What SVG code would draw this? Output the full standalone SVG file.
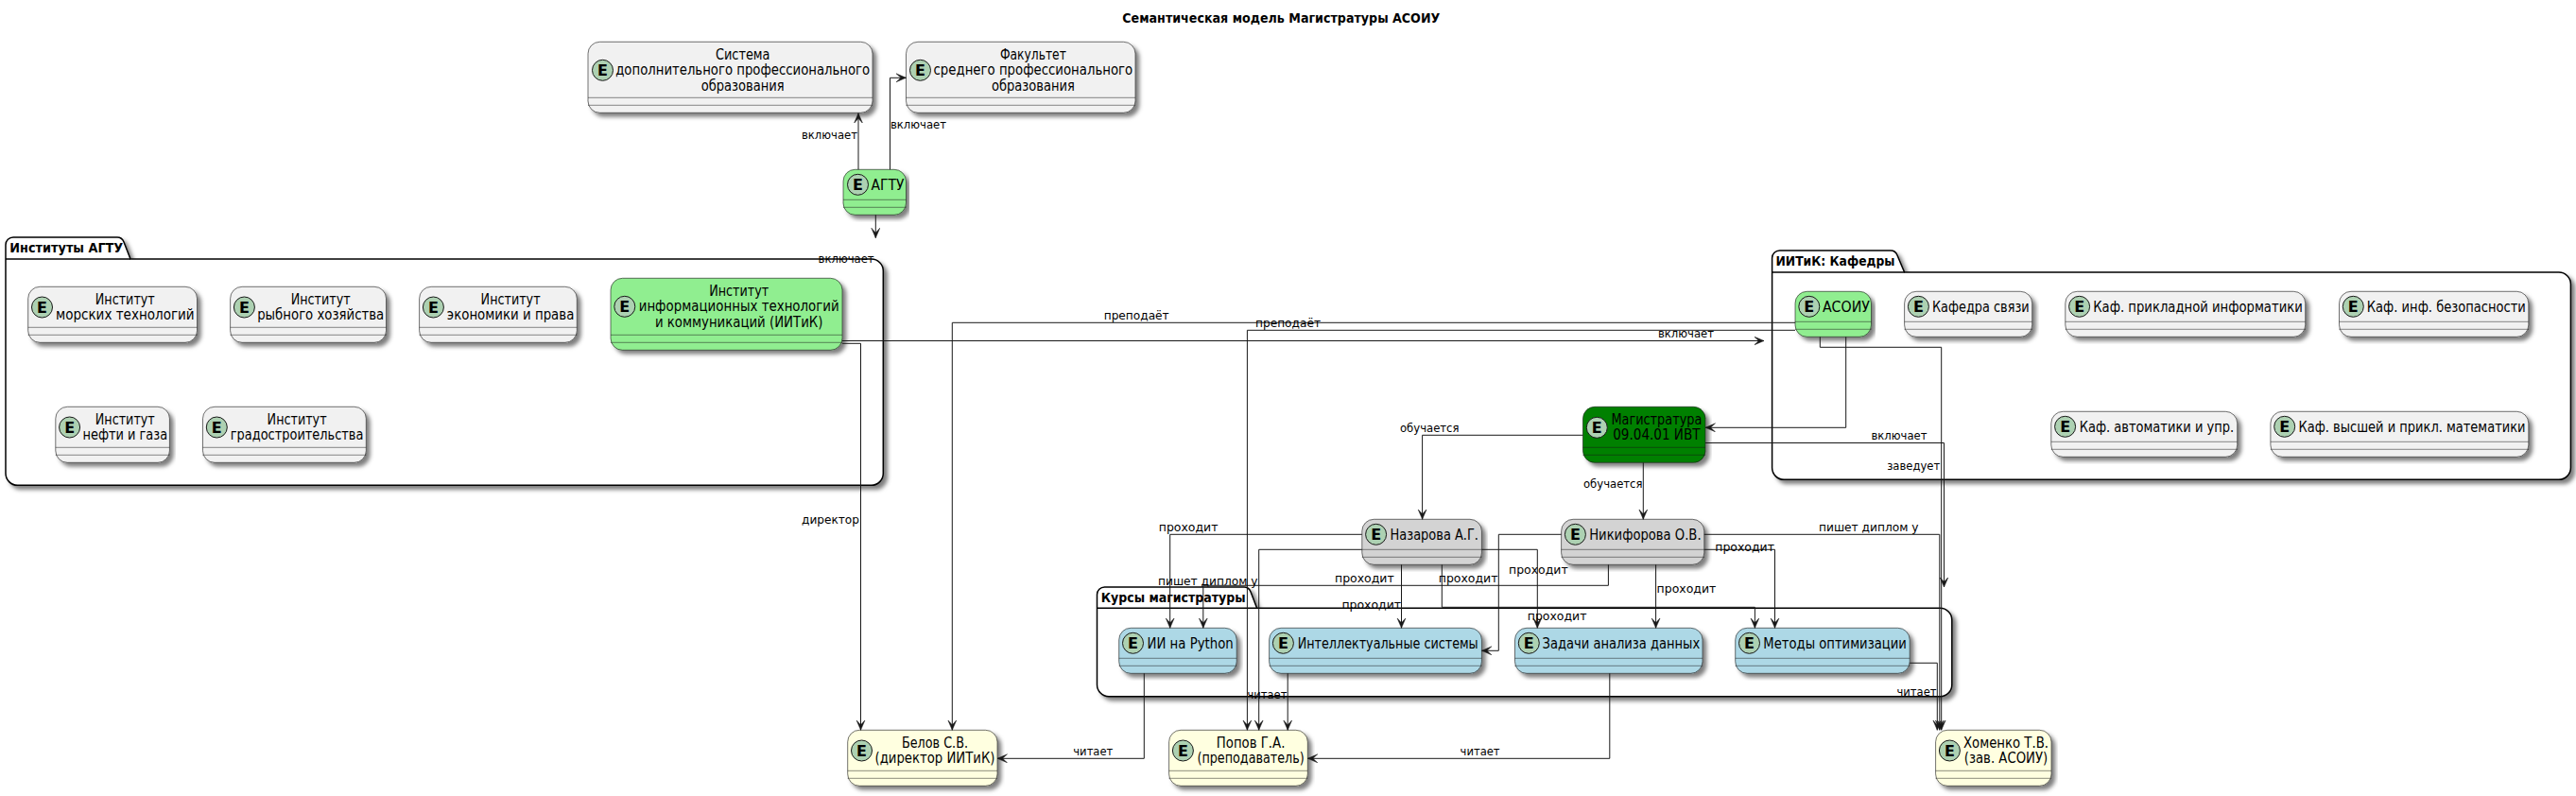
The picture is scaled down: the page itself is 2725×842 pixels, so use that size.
<svg xmlns="http://www.w3.org/2000/svg" width="2725" height="842" viewBox="0 0 2725 842">
<style>
text{font-family:"DejaVu Sans",sans-serif;fill:#000}
.b{stroke:#181818;stroke-width:.6;filter:url(#s)}
.d{stroke:#181818;stroke-width:.5;fill:none}
.c{fill:#ADD1B2;stroke:#181818;stroke-width:1}
.e{font-size:16px;font-weight:bold;text-anchor:middle}
.t{font-size:15px;text-anchor:middle}
.p{fill:#fff;stroke:#000;stroke-width:1.5;filter:url(#s)}
.pl{fill:none;stroke:#000;stroke-width:1.5}
.pt{font-size:14px;font-weight:bold}
.l{fill:none;stroke:#181818;stroke-width:1;marker-end:url(#a)}
.lb{font-size:13px}
.w{fill:#F1F1F1}.g{fill:#90EE90}.dg{fill:#008000}.y{fill:#D3D3D3}.u{fill:#ADD8E6}.ly{fill:#FFFFE0}
</style>
<defs>
<filter id="s" x="-5%" y="-5%" width="110%" height="120%"><feDropShadow dx="4" dy="4" stdDeviation="2" flood-color="#000" flood-opacity=".5"/></filter>
<marker id="a" markerUnits="userSpaceOnUse" markerWidth="12" markerHeight="11" refX="10.5" refY="5" orient="auto"><polygon points="10.5,5 0,0.5 5,5 0,9.5" fill="#181818" stroke="#181818" stroke-width=".5"/></marker>
</defs>
<rect width="2725" height="842" fill="#fff"/>
<text class="pt" x="1187.3" y="24.3" textLength="336" lengthAdjust="spacingAndGlyphs">Семантическая модель Магистратуры АСОИУ</text>
<g id="pkg-institutes"><path class="p" d="M6,259 A8,8 0 0 1 14,251 L124,251 Q129,251 131,256 L138,274 L921.8,274 A12.5,12.5 0 0 1 934.3,286.5 L934.3,500.8 A12.5,12.5 0 0 1 921.8,513.3 L18.5,513.3 A12.5,12.5 0 0 1 6,500.8 Z"/><path class="pl" d="M6,274 H138"/><text class="pt" x="10.3" y="267" textLength="120" lengthAdjust="spacingAndGlyphs">Институты АГТУ</text></g>
<g id="pkg-departments"><path class="p" d="M1874.6,273 A8,8 0 0 1 1882.6,265 L2000,265 Q2005,265 2007,270 L2014.6,288 L2706.9,288 A12.5,12.5 0 0 1 2719.4,300.5 L2719.4,494.8 A12.5,12.5 0 0 1 2706.9,507.3 L1887.1,507.3 A12.5,12.5 0 0 1 1874.6,494.8 Z"/><path class="pl" d="M1874.6,288 H2014.6"/><text class="pt" x="1878.5" y="281" textLength="126" lengthAdjust="spacingAndGlyphs">ИИТиК: Кафедры</text></g>
<g id="pkg-courses"><path class="p" d="M1160.5,629 A8,8 0 0 1 1168.5,621 L1316,621 Q1321,621 1323,626 L1329.6,643.3 L2052.3,643.3 A12.5,12.5 0 0 1 2064.8,655.8 L2064.8,724.2 A12.5,12.5 0 0 1 2052.3,736.7 L1173,736.7 A12.5,12.5 0 0 1 1160.5,724.2 Z"/><path class="pl" d="M1160.5,643.3 H1329.6"/><text class="pt" x="1164.7" y="637" textLength="153" lengthAdjust="spacingAndGlyphs">Курсы магистратуры</text></g>

<g id="n-sys"><rect class="b w" x="622" y="44.3" width="301" height="75" rx="12.5"/><circle class="c" cx="637.5" cy="74.3" r="11"/><text class="e" x="637.5" y="80">E</text><text class="t" x="785.7" y="63" textLength="57.6" lengthAdjust="spacingAndGlyphs">Система</text><text class="t" x="785.7" y="79.3" textLength="269" lengthAdjust="spacingAndGlyphs">дополнительного профессионального</text><text class="t" x="785.7" y="95.6" textLength="88" lengthAdjust="spacingAndGlyphs">образования</text><path class="d" d="M622,103.3H923M622,111.3H923"/></g>
<g id="n-fak"><rect class="b w" x="958.5" y="44.3" width="242.5" height="75" rx="12.5"/><circle class="c" cx="973.5" cy="74.3" r="11"/><text class="e" x="973.5" y="80">E</text><text class="t" x="1092.9" y="63" textLength="70" lengthAdjust="spacingAndGlyphs">Факультет</text><text class="t" x="1092.9" y="79.3" textLength="210.7" lengthAdjust="spacingAndGlyphs">среднего профессионального</text><text class="t" x="1092.9" y="95.6" textLength="88" lengthAdjust="spacingAndGlyphs">образования</text><path class="d" d="M958.5,103.3H1201M958.5,111.3H1201"/></g>
<g id="n-agtu"><rect class="b g" x="892" y="179.3" width="66.5" height="48" rx="12.5"/><circle class="c" cx="907.5" cy="195.3" r="11"/><text class="e" x="907.5" y="201">E</text><text class="t" x="939" y="200.5" textLength="34.8" lengthAdjust="spacingAndGlyphs">АГТУ</text><path class="d" d="M892,211.3H958.5M892,219.3H958.5"/></g>

<g id="n-morsk"><rect class="b w" x="29.7" y="303.3" width="178.8" height="59" rx="12.5"/><circle class="c" cx="44.5" cy="325" r="11"/><text class="e" x="44.5" y="330.7">E</text><text class="t" x="132.3" y="322" textLength="63" lengthAdjust="spacingAndGlyphs">Институт</text><text class="t" x="132.3" y="338.3" textLength="146.7" lengthAdjust="spacingAndGlyphs">морских технологий</text><path class="d" d="M29.7,346.3H208.5M29.7,354.3H208.5"/></g>
<g id="n-ryb"><rect class="b w" x="243.6" y="303.3" width="164.9" height="59" rx="12.5"/><circle class="c" cx="258.4" cy="325" r="11"/><text class="e" x="258.4" y="330.7">E</text><text class="t" x="339.2" y="322" textLength="63" lengthAdjust="spacingAndGlyphs">Институт</text><text class="t" x="339.2" y="338.3" textLength="134" lengthAdjust="spacingAndGlyphs">рыбного хозяйства</text><path class="d" d="M243.6,346.3H408.5M243.6,354.3H408.5"/></g>
<g id="n-ekon"><rect class="b w" x="443.6" y="303.3" width="166.7" height="59" rx="12.5"/><circle class="c" cx="458.4" cy="325" r="11"/><text class="e" x="458.4" y="330.7">E</text><text class="t" x="540.1" y="322" textLength="63" lengthAdjust="spacingAndGlyphs">Институт</text><text class="t" x="540.1" y="338.3" textLength="134.5" lengthAdjust="spacingAndGlyphs">экономики и права</text><path class="d" d="M443.6,346.3H610.3M443.6,354.3H610.3"/></g>
<g id="n-iitik"><rect class="b g" x="646" y="294.3" width="245" height="76" rx="12.5"/><circle class="c" cx="660.8" cy="324.3" r="11"/><text class="e" x="660.8" y="330">E</text><text class="t" x="781.7" y="313" textLength="63" lengthAdjust="spacingAndGlyphs">Институт</text><text class="t" x="781.7" y="329.3" textLength="212" lengthAdjust="spacingAndGlyphs">информационных технологий</text><text class="t" x="781.7" y="345.6" textLength="177.6" lengthAdjust="spacingAndGlyphs">и коммуникаций (ИИТиК)</text><path class="d" d="M646,354.3H891M646,362.3H891"/></g>
<g id="n-nefti"><rect class="b w" x="58.8" y="430.3" width="120.6" height="59" rx="12.5"/><circle class="c" cx="73.6" cy="452" r="11"/><text class="e" x="73.6" y="457.7">E</text><text class="t" x="132.3" y="449" textLength="63" lengthAdjust="spacingAndGlyphs">Институт</text><text class="t" x="132.3" y="465.3" textLength="89.7" lengthAdjust="spacingAndGlyphs">нефти и газа</text><path class="d" d="M58.8,473.3H179.4M58.8,481.3H179.4"/></g>
<g id="n-grad"><rect class="b w" x="214.5" y="430.3" width="172.8" height="59" rx="12.5"/><circle class="c" cx="229.3" cy="452" r="11"/><text class="e" x="229.3" y="457.7">E</text><text class="t" x="314.1" y="449" textLength="63" lengthAdjust="spacingAndGlyphs">Институт</text><text class="t" x="314.1" y="465.3" textLength="140.6" lengthAdjust="spacingAndGlyphs">градостроительства</text><path class="d" d="M214.5,473.3H387.3M214.5,481.3H387.3"/></g>

<g id="n-asoiu"><rect class="b g" x="1899" y="308.3" width="80.5" height="48" rx="12.5"/><circle class="c" cx="1913.8" cy="324.3" r="11"/><text class="e" x="1913.8" y="330">E</text><text class="t" x="1952.9" y="329.5" textLength="50" lengthAdjust="spacingAndGlyphs">АСОИУ</text><path class="d" d="M1899,340.3H1979.5M1899,348.3H1979.5"/></g>
<g id="n-svyaz"><rect class="b w" x="2014.6" y="308.3" width="135.1" height="48" rx="12.5"/><circle class="c" cx="2029.4" cy="324.3" r="11"/><text class="e" x="2029.4" y="330">E</text><text class="t" x="2095.3" y="329.5" textLength="102.7" lengthAdjust="spacingAndGlyphs">Кафедра связи</text><path class="d" d="M2014.6,340.3H2149.7M2014.6,348.3H2149.7"/></g>
<g id="n-prikl"><rect class="b w" x="2184.8" y="308.3" width="253.9" height="48" rx="12.5"/><circle class="c" cx="2199.6" cy="324.3" r="11"/><text class="e" x="2199.6" y="330">E</text><text class="t" x="2325" y="329.5" textLength="221.5" lengthAdjust="spacingAndGlyphs">Каф. прикладной информатики</text><path class="d" d="M2184.8,340.3H2438.7M2184.8,348.3H2438.7"/></g>
<g id="n-bez"><rect class="b w" x="2474.5" y="308.3" width="200.3" height="48" rx="12.5"/><circle class="c" cx="2489.3" cy="324.3" r="11"/><text class="e" x="2489.3" y="330">E</text><text class="t" x="2587.8" y="329.5" textLength="168" lengthAdjust="spacingAndGlyphs">Каф. инф. безопасности</text><path class="d" d="M2474.5,340.3H2674.8M2474.5,348.3H2674.8"/></g>
<g id="n-avto"><rect class="b w" x="2169.8" y="435.3" width="196.9" height="48" rx="12.5"/><circle class="c" cx="2184.6" cy="451.3" r="11"/><text class="e" x="2184.6" y="457">E</text><text class="t" x="2281.4" y="456.5" textLength="163.5" lengthAdjust="spacingAndGlyphs">Каф. автоматики и упр.</text><path class="d" d="M2169.8,467.3H2366.7M2169.8,475.3H2366.7"/></g>
<g id="n-vysh"><rect class="b w" x="2401.9" y="435.3" width="272.9" height="48" rx="12.5"/><circle class="c" cx="2416.7" cy="451.3" r="11"/><text class="e" x="2416.7" y="457">E</text><text class="t" x="2551.5" y="456.5" textLength="240" lengthAdjust="spacingAndGlyphs">Каф. высшей и прикл. математики</text><path class="d" d="M2401.9,467.3H2674.8M2401.9,475.3H2674.8"/></g>

<g id="n-mag"><rect class="b dg" x="1674.5" y="430.3" width="129.5" height="59" rx="12.5"/><circle class="c" cx="1689.3" cy="452.3" r="11"/><text class="e" x="1689.3" y="458">E</text><text class="t" x="1752.4" y="449" textLength="96" lengthAdjust="spacingAndGlyphs">Магистратура</text><text class="t" x="1752.4" y="465.3" textLength="92.3" lengthAdjust="spacingAndGlyphs">09.04.01 ИВТ</text><path class="d" d="M1674.5,473.3H1804M1674.5,481.3H1804"/></g>
<g id="n-naz"><rect class="b y" x="1440.8" y="549.3" width="126.6" height="48" rx="12.5"/><circle class="c" cx="1455.6" cy="565.3" r="11"/><text class="e" x="1455.6" y="571">E</text><text class="t" x="1517.3" y="570.5" textLength="93.4" lengthAdjust="spacingAndGlyphs">Назарова А.Г.</text><path class="d" d="M1440.8,581.3H1567.4M1440.8,589.3H1567.4"/></g>
<g id="n-nik"><rect class="b y" x="1651.6" y="549.3" width="151.2" height="48" rx="12.5"/><circle class="c" cx="1666.4" cy="565.3" r="11"/><text class="e" x="1666.4" y="571">E</text><text class="t" x="1740.4" y="570.5" textLength="118.4" lengthAdjust="spacingAndGlyphs">Никифорова О.В.</text><path class="d" d="M1651.6,581.3H1802.8M1651.6,589.3H1802.8"/></g>

<g id="n-ai"><rect class="b u" x="1183.7" y="664.3" width="124.5" height="48" rx="12.5"/><circle class="c" cx="1198.5" cy="680.3" r="11"/><text class="e" x="1198.5" y="686">E</text><text class="t" x="1259.1" y="685.5" textLength="91.2" lengthAdjust="spacingAndGlyphs">ИИ на Python</text><path class="d" d="M1183.7,696.3H1308.2M1183.7,704.3H1308.2"/></g>
<g id="n-int"><rect class="b u" x="1342.6" y="664.3" width="224.8" height="48" rx="12.5"/><circle class="c" cx="1357.4" cy="680.3" r="11"/><text class="e" x="1357.4" y="686">E</text><text class="t" x="1468.2" y="685.5" textLength="191" lengthAdjust="spacingAndGlyphs">Интеллектуальные системы</text><path class="d" d="M1342.6,696.3H1567.4M1342.6,704.3H1567.4"/></g>
<g id="n-zad"><rect class="b u" x="1602.5" y="664.3" width="198.5" height="48" rx="12.5"/><circle class="c" cx="1617.3" cy="680.3" r="11"/><text class="e" x="1617.3" y="686">E</text><text class="t" x="1714.9" y="685.5" textLength="166.6" lengthAdjust="spacingAndGlyphs">Задачи анализа данных</text><path class="d" d="M1602.5,696.3H1801M1602.5,704.3H1801"/></g>
<g id="n-met"><rect class="b u" x="1835.7" y="664.3" width="184.5" height="48" rx="12.5"/><circle class="c" cx="1850.5" cy="680.3" r="11"/><text class="e" x="1850.5" y="686">E</text><text class="t" x="1941.1" y="685.5" textLength="151.5" lengthAdjust="spacingAndGlyphs">Методы оптимизации</text><path class="d" d="M1835.7,696.3H2020.2M1835.7,704.3H2020.2"/></g>

<g id="n-belov"><rect class="b ly" x="896.7" y="772.3" width="158.3" height="59" rx="12.5"/><circle class="c" cx="911.5" cy="794" r="11"/><text class="e" x="911.5" y="799.7">E</text><text class="t" x="989" y="791" textLength="70" lengthAdjust="spacingAndGlyphs">Белов С.В.</text><text class="t" x="989" y="807.3" textLength="127" lengthAdjust="spacingAndGlyphs">(директор ИИТиК)</text><path class="d" d="M896.7,815.3H1055M896.7,823.3H1055"/></g>
<g id="n-popov"><rect class="b ly" x="1236.6" y="772.3" width="146.7" height="59" rx="12.5"/><circle class="c" cx="1251.4" cy="794" r="11"/><text class="e" x="1251.4" y="799.7">E</text><text class="t" x="1323.1" y="791" textLength="72.6" lengthAdjust="spacingAndGlyphs">Попов Г.А.</text><text class="t" x="1323.1" y="807.3" textLength="113.3" lengthAdjust="spacingAndGlyphs">(преподаватель)</text><path class="d" d="M1236.6,815.3H1383.3M1236.6,823.3H1383.3"/></g>
<g id="n-hom"><rect class="b ly" x="2047.6" y="772.3" width="122.4" height="59" rx="12.5"/><circle class="c" cx="2062.4" cy="794" r="11"/><text class="e" x="2062.4" y="799.7">E</text><text class="t" x="2122" y="791" textLength="90" lengthAdjust="spacingAndGlyphs">Хоменко Т.В.</text><text class="t" x="2122" y="807.3" textLength="88.4" lengthAdjust="spacingAndGlyphs">(зав. АСОИУ)</text><path class="d" d="M2047.6,815.3H2170M2047.6,823.3H2170"/></g>

<g id="connectors">
<path class="l" d="M908,179.3V119.8"/>
<path class="l" d="M941.5,179.3V82.3H958.5"/>
<path class="l" d="M926.3,227.3V251.7"/>
<path class="l" d="M891,360.5H1866"/>
<path class="l" d="M891,363.3H910.5V772.3"/>
<path class="l" d="M1899,341.3H1007.3V772.3"/>
<path class="l" d="M1899,349.3H1319.4V772.3"/>
<path class="l" d="M1952.7,356.3V452.3H1804"/>
<path class="l" d="M1925.3,356.3V367.3H2053.7V772.3"/>
<path class="l" d="M1674.5,460.3H1504.6V549.3"/>
<path class="l" d="M1738.3,489.3V549.3"/>
<path class="l" d="M1804,468.5H2056.5V621"/>
<path class="l" d="M1440.8,565.3H1237.7V664.3"/>
<path class="l" d="M1440.8,581.3H1331.7V772.3"/>
<path class="l" d="M1567.4,581.3H1626.3V664.3"/>
<path class="l" d="M1482.5,597.3V664.3"/>
<path class="l" d="M1525.3,597.3V642.3H1856.4V664.3"/>
<path class="l" d="M1701.4,597.3V619.3H1272.8V664.3"/>
<path class="l" d="M1651.6,565.3H1585.3V688.3H1567.4"/>
<path class="l" d="M1751.6,597.3V664.3"/>
<path class="l" d="M1802.8,581.3H1877.5V664.3"/>
<path class="l" d="M1802.8,565.3H2051.8V772.3"/>
<path class="l" d="M1210.3,712.3V802.3H1055"/>
<path class="l" d="M1362.2,712.3V772.3"/>
<path class="l" d="M1702.8,712.3V802.3H1383.3"/>
<path class="l" d="M2020.2,701.3H2049.3V772.3"/>
<g class="lb">
<text x="848" y="147" textLength="59" lengthAdjust="spacingAndGlyphs">включает</text>
<text x="942" y="136" textLength="59" lengthAdjust="spacingAndGlyphs">включает</text>
<text x="865.6" y="278" textLength="59" lengthAdjust="spacingAndGlyphs">включает</text>
<text x="1754" y="356.7" textLength="59" lengthAdjust="spacingAndGlyphs">включает</text>
<text x="1979.5" y="465" textLength="59" lengthAdjust="spacingAndGlyphs">включает</text>
<text x="1167.7" y="337.7" textLength="69" lengthAdjust="spacingAndGlyphs">преподаёт</text>
<text x="1328" y="346" textLength="69" lengthAdjust="spacingAndGlyphs">преподаёт</text>
<text x="909" y="554.3" text-anchor="end" textLength="61" lengthAdjust="spacingAndGlyphs">директор</text>
<text x="1996.2" y="497.3" textLength="56" lengthAdjust="spacingAndGlyphs">заведует</text>
<text x="1481" y="456.7" textLength="62.5" lengthAdjust="spacingAndGlyphs">обучается</text>
<text x="1675" y="515.7" textLength="62.5" lengthAdjust="spacingAndGlyphs">обучается</text>
<text x="1225.8" y="561.7" textLength="62.7" lengthAdjust="spacingAndGlyphs">проходит</text>
<text x="1412" y="615.7" textLength="62.7" lengthAdjust="spacingAndGlyphs">проходит</text>
<text x="1521.8" y="615.7" textLength="62.7" lengthAdjust="spacingAndGlyphs">проходит</text>
<text x="1419.4" y="644" textLength="62.7" lengthAdjust="spacingAndGlyphs">проходит</text>
<text x="1596" y="606.7" textLength="62.7" lengthAdjust="spacingAndGlyphs">проходит</text>
<text x="1615.8" y="655.7" textLength="62.7" lengthAdjust="spacingAndGlyphs">проходит</text>
<text x="1814.3" y="582.7" textLength="62.7" lengthAdjust="spacingAndGlyphs">проходит</text>
<text x="1752.6" y="626.7" textLength="62.7" lengthAdjust="spacingAndGlyphs">проходит</text>
<text x="1225" y="618.7" textLength="105.6" lengthAdjust="spacingAndGlyphs">пишет диплом у</text>
<text x="1924" y="561.7" textLength="105.6" lengthAdjust="spacingAndGlyphs">пишет диплом у</text>
<text x="1135.3" y="798.7" textLength="42" lengthAdjust="spacingAndGlyphs">читает</text>
<text x="1319.4" y="738.7" textLength="42" lengthAdjust="spacingAndGlyphs">читает</text>
<text x="1544.6" y="798.7" textLength="42" lengthAdjust="spacingAndGlyphs">читает</text>
<text x="2006.5" y="735.7" textLength="42" lengthAdjust="spacingAndGlyphs">читает</text>
</g>
</g>
</svg>
